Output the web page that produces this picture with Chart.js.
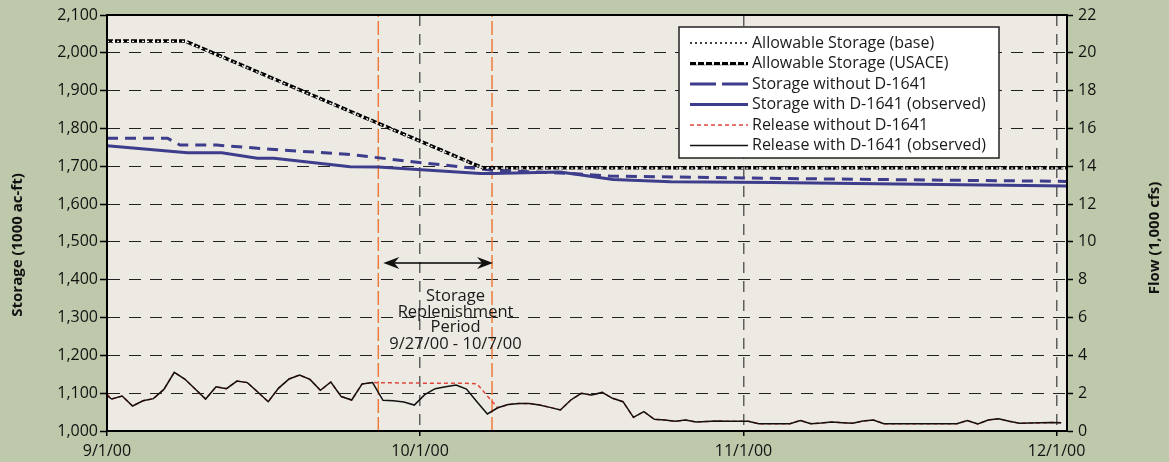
<!DOCTYPE html>
<html>
<head>
<meta charset="utf-8">
<title>Storage and release, Sept - Dec 2000</title>
<script src="https://cdn.jsdelivr.net/npm/chart.js@4/dist/chart.umd.min.js"></script>
<style>
  html, body { margin: 0; padding: 0; background: #bec8aa; }
  #wrap { width: 1169px; height: 462px; }
</style>
</head>
<body>
<div id="wrap"><canvas id="chart" width="1169" height="462"></canvas></div>
<script>
// x values are days counted from 9/1/00
const tickDays   = [0, 30, 61, 91];
const tickLabels = ['9/1/00', '10/1/00', '11/1/00', '12/1/00'];

// allowable storage (1000 ac-ft)
const allowDays  = [0, 7.5, 36, 92];
const allowBase  = [2030, 2030, 1695, 1695];
const allowUsace = [2031, 2031, 1696, 1696];

// storage without D-1641
const noRuleDays    = [0, 5.8, 7, 10.5, 16.6, 23, 29.3, 35.8, 36.7, 44.4, 48.2, 63.6, 92];
const noRuleStorage = [1774, 1774, 1756, 1756, 1743, 1732, 1712, 1693, 1690, 1681, 1674, 1668, 1660];

// storage with D-1641 (observed)
const obsDays    = [0, 7.7, 11, 14.4, 16, 23.3, 26, 35.8, 37, 43.4, 48.5, 54, 63.6, 92];
const obsStorage = [1754, 1736, 1736, 1721, 1721, 1699, 1698, 1681, 1681, 1685, 1665, 1659, 1657, 1648];

// daily release (1,000 cfs), one value per day, sampled a little after midnight
const releaseOffset = 0.45;
const releaseStartWith = 1.87;
const releaseStartWithout = 1.95;
const releaseWith = [
  1.69, 1.85, 1.32, 1.60, 1.71, 2.20, 3.10, 2.75, 2.22, 1.69,
  2.34, 2.24, 2.64, 2.56, 2.06, 1.55, 2.27, 2.75, 2.96, 2.73,
  2.15, 2.59, 1.82, 1.64, 2.49, 2.56, 1.62, 1.60, 1.53, 1.37,
  1.92, 2.24, 2.34, 2.43, 2.22, 1.55, 0.90, 1.23, 1.40, 1.46,
  1.46, 1.38, 1.25, 1.11, 1.64, 1.99, 1.90, 2.04, 1.73, 1.55,
  0.72, 1.02, 0.62, 0.58, 0.51, 0.58, 0.48, 0.50, 0.53, 0.52,
  0.51, 0.51, 0.39, 0.39, 0.39, 0.39, 0.56, 0.39, 0.42, 0.48,
  0.44, 0.41, 0.53, 0.58, 0.39, 0.39, 0.39, 0.39, 0.39, 0.39,
  0.39, 0.39, 0.55, 0.37, 0.58, 0.65, 0.52, 0.41, 0.42, 0.43,
  0.45, 0.44
];
const releaseWithout = [
  1.69, 1.85, 1.32, 1.60, 1.71, 2.20, 3.10, 2.75, 2.22, 1.69,
  2.34, 2.24, 2.64, 2.56, 2.06, 1.55, 2.27, 2.75, 2.96, 2.73,
  2.15, 2.59, 1.82, 1.64, 2.49, 2.56, 2.55, 2.55, 2.54, 2.54,
  2.53, 2.53, 2.52, 2.52, 2.52, 2.50, 1.85, 1.23, 1.40, 1.46,
  1.46, 1.38, 1.25, 1.11, 1.64, 1.99, 1.90, 2.04, 1.73, 1.55,
  0.72, 1.02, 0.62, 0.58, 0.51, 0.58, 0.48, 0.50, 0.53, 0.52,
  0.51, 0.51, 0.39, 0.39, 0.39, 0.39, 0.56, 0.39, 0.42, 0.48,
  0.44, 0.41, 0.53, 0.58, 0.39, 0.39, 0.39, 0.39, 0.39, 0.39,
  0.39, 0.39, 0.55, 0.37, 0.58, 0.65, 0.52, 0.41, 0.42, 0.43,
  0.45, 0.44
];

// storage replenishment period 9/27/00 - 10/7/00
const periodDays   = [26, 36.9];
const arrowStorage = 1444;
const noteDay      = 33.4;
const noteLines    = ['Storage', 'Replenishment', 'Period', '9/27/00 - 10/7/00'];
const noteStorage  = [1357, 1314, 1273, 1230];

const leftTitle  = 'Storage (1000 ac-ft)';
const rightTitle = 'Flow (1,000 cfs)';

const BLUE = '#3d3d8c';
const FONT = '"Open Sans", "Noto Sans", sans-serif';

function pts(xs, ys) {
  return xs.map((x, i) => ({ x, y: ys[i] }));
}
function releasePts(start, vals) {
  return [{ x: 0, y: start }].concat(vals.map((v, i) => ({ x: i + releaseOffset, y: v })));
}
function vline(day) {
  return [{ x: day, y: 1000 }, { x: day, y: 2100 }];
}

// legend drawn inside the plot, same styles as the lines
const legendRows = [
  { text: 'Allowable Storage (base)',       color: '#000', width: 1.5, dash: [2, 3] },
  { text: 'Allowable Storage (USACE)',      color: '#000', width: 3,   dash: [6, 2] },
  { text: 'Storage without D-1641',         color: BLUE,   width: 3,   dash: [26, 6] },
  { text: 'Storage with D-1641 (observed)', color: BLUE,   width: 3,   dash: [] },
  { text: 'Release without D-1641',         color: '#e0463c', width: 1.5, dash: [4, 3] },
  { text: 'Release with D-1641 (observed)', color: '#111', width: 1.5, dash: [] }
];

function rotatedText(ctx, text, x, y) {
  ctx.save();
  ctx.translate(x, y);
  ctx.rotate(-Math.PI / 2);
  ctx.fillText(text, 0, 0);
  ctx.restore();
}

const decor = {
  id: 'decor',
  beforeDraw(chart) {
    const { ctx, chartArea: a } = chart;
    ctx.save();
    ctx.fillStyle = '#edeae4';
    ctx.fillRect(a.left, a.top, a.right - a.left, a.bottom - a.top);
    ctx.restore();
  },
  afterDatasetsDraw(chart) {
    const { ctx, chartArea: a, scales } = chart;
    const xs = scales.x, ys = scales.y;
    ctx.save();

    // frame
    ctx.strokeStyle = '#000';
    ctx.lineWidth = 2;
    ctx.setLineDash([]);
    ctx.strokeRect(a.left, a.top, a.right - a.left, a.bottom - a.top);

    // double arrow
    const ay = ys.getPixelForValue(arrowStorage);
    const x1 = xs.getPixelForValue(periodDays[0]) + 5;
    const x2 = xs.getPixelForValue(periodDays[1]) + 1;
    ctx.lineWidth = 1.5;
    ctx.beginPath();
    ctx.moveTo(x1 + 6, ay);
    ctx.lineTo(x2 - 6, ay);
    ctx.stroke();
    ctx.fillStyle = '#111';
    [[x1, 1], [x2, -1]].forEach(([tx, d]) => {
      ctx.beginPath();
      ctx.moveTo(tx, ay);
      ctx.lineTo(tx + d * 16, ay - 6);
      ctx.lineTo(tx + d * 11, ay);
      ctx.lineTo(tx + d * 16, ay + 6);
      ctx.closePath();
      ctx.fill();
    });

    // note text
    ctx.font = '16.5px ' + FONT;
    ctx.textAlign = 'center';
    ctx.textBaseline = 'middle';
    ctx.fillStyle = '#1a1a1a';
    const nx = xs.getPixelForValue(noteDay);
    noteLines.forEach((t, i) => ctx.fillText(t, nx, ys.getPixelForValue(noteStorage[i])));

    // axis titles
    ctx.font = 'bold 15px ' + FONT;
    ctx.fillStyle = '#111';
    rotatedText(ctx, leftTitle, 18, 245);
    rotatedText(ctx, rightTitle, 1155, 238);

    // legend box
    const bx = 679, by = 27, bw = 320, bh = 131;
    ctx.fillStyle = '#ffffff';
    ctx.fillRect(bx, by, bw, bh);
    ctx.strokeStyle = '#222';
    ctx.lineWidth = 1.5;
    ctx.strokeRect(bx, by, bw, bh);
    ctx.font = '16px ' + FONT;
    ctx.textAlign = 'left';
    legendRows.forEach((r, i) => {
      const ry = by + 16 + i * 20.5;
      if (i === 1) {
        ctx.strokeStyle = '#999';
        ctx.lineWidth = 1;
        ctx.setLineDash([]);
        ctx.beginPath();
        ctx.moveTo(690, ry + 1.5);
        ctx.lineTo(748, ry + 1.5);
        ctx.stroke();
      }
      ctx.strokeStyle = r.color;
      ctx.lineWidth = r.width;
      ctx.setLineDash(r.dash);
      ctx.beginPath();
      ctx.moveTo(690, ry);
      ctx.lineTo(748, ry);
      ctx.stroke();
      ctx.fillStyle = '#1a1a1a';
      ctx.fillText(r.text, 752, ry);
    });
    ctx.restore();
  }
};

new Chart(document.getElementById('chart'), {
  type: 'line',
  data: {
    datasets: [
      {
        label: 'Allowable Storage (base)',
        data: pts(allowDays, allowBase),
        borderColor: '#ffffff', borderWidth: 1.2, borderDash: [2, 3],
        yAxisID: 'y', order: 1
      },
      {
        label: 'Allowable Storage (USACE)',
        data: pts(allowDays, allowUsace),
        borderColor: '#000000', borderWidth: 3.5, borderDash: [6, 2],
        yAxisID: 'y', order: 2
      },
      {
        label: 'Storage with D-1641 (observed)',
        data: pts(obsDays, obsStorage),
        borderColor: BLUE, borderWidth: 3,
        yAxisID: 'y', order: 3
      },
      {
        label: 'Storage without D-1641',
        data: pts(noRuleDays, noRuleStorage),
        borderColor: BLUE, borderWidth: 3, borderDash: [11, 7],
        yAxisID: 'y', order: 4
      },
      {
        label: 'Release with D-1641 (observed)',
        data: releasePts(releaseStartWith, releaseWith),
        borderColor: '#111111', borderWidth: 1.5,
        yAxisID: 'y2', order: 5
      },
      {
        label: 'Release without D-1641',
        data: releasePts(releaseStartWithout, releaseWithout),
        borderColor: '#e0463c', borderWidth: 1.5, borderDash: [4, 3],
        yAxisID: 'y2', order: 6
      },
      {
        label: 'period start',
        data: vline(periodDays[0]),
        borderColor: '#ef7b3b', borderWidth: 1.5, borderDash: [14, 4],
        yAxisID: 'y', order: 7
      },
      {
        label: 'period end',
        data: vline(periodDays[1]),
        borderColor: '#ef7b3b', borderWidth: 1.5, borderDash: [14, 4],
        yAxisID: 'y', order: 7
      }
    ]
  },
  options: {
    responsive: false,
    animation: false,
    devicePixelRatio: 1,
    elements: { point: { radius: 0 }, line: { tension: 0, fill: false } },
    layout: { padding: { top: 15, left: 0, right: 0, bottom: 0 } },
    plugins: {
      legend: { display: false },
      tooltip: { enabled: false }
    },
    scales: {
      x: {
        type: 'linear',
        min: 0,
        max: 92,
        afterBuildTicks: s => { s.ticks = tickDays.map(v => ({ value: v })); },
        afterFit: s => { s.height = 31; },
        ticks: {
          autoSkip: false,
          maxRotation: 0,
          padding: 6,
          color: '#111',
          font: { family: FONT, size: 16 },
          callback: v => tickLabels[tickDays.indexOf(v)]
        },
        grid: { color: '#5e5e5e', lineWidth: 1.5, tickLength: 5, tickColor: '#000', tickWidth: 1.5 },
        border: { color: '#000', width: 2, dash: [11, 8] }
      },
      y: {
        position: 'left',
        min: 1000,
        max: 2100,
        afterFit: s => { s.width = 107; },
        ticks: {
          stepSize: 100,
          padding: 2,
          color: '#111',
          font: { family: FONT, size: 16 },
          callback: v => v.toLocaleString('en-US')
        },
        grid: { color: '#222', lineWidth: 1, tickLength: 7, tickColor: '#000', tickWidth: 1.5 },
        border: { color: '#000', width: 2, dash: [12, 9] }
      },
      y2: {
        position: 'right',
        min: 0,
        max: 22,
        afterFit: s => { s.width = 102; },
        ticks: {
          stepSize: 2,
          padding: 5,
          color: '#111',
          font: { family: FONT, size: 16 }
        },
        grid: { drawOnChartArea: false, tickLength: 6, tickColor: '#000', tickWidth: 1.5 },
        border: { color: '#000', width: 2 }
      }
    }
  },
  plugins: [decor]
});
</script>
</body>
</html>
